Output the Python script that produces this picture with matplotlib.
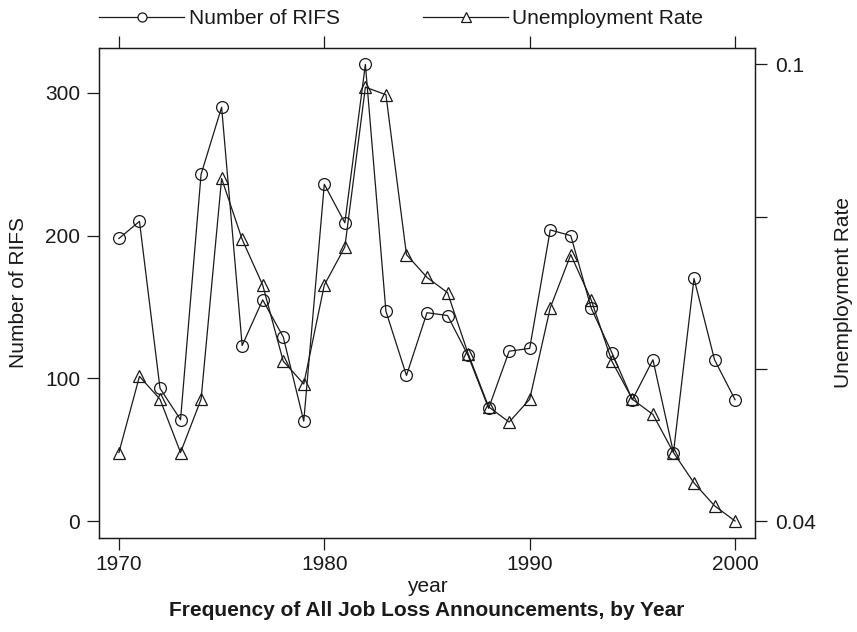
import numpy as np
from matplotlib import pyplot as plt
from matplotlib.lines import Line2D

plt.rcParams['font.family'] = ['Liberation Sans', 'DejaVu Sans']
plt.rcParams['font.size'] = 15

years = list(range(1970, 2001))
rifs = [198, 210, 93, 71, 243, 290, 123, 155, 129, 70,
        236, 209, 320, 147, 102, 146, 144, 116, 79, 119,
        121, 204, 200, 149, 118, 85, 113, 48, 170, 113, 85]
unemp = [0.049, 0.059, 0.056, 0.049, 0.056, 0.085, 0.077, 0.071, 0.061, 0.058,
         0.071, 0.076, 0.097, 0.096, 0.075, 0.072, 0.070, 0.062, 0.055, 0.053,
         0.056, 0.068, 0.075, 0.069, 0.061, 0.056, 0.054, 0.049, 0.045, 0.042, 0.040]

ink = '#1a1a1a'
W, H = 857, 632
fig = plt.figure(figsize=(W / 100, H / 100), dpi=100)

# panel box in pixels
x0, x1, ytop, ybot = 99, 755, 48, 538
ax = fig.add_axes([x0 / W, (H - ybot) / H, (x1 - x0) / W, (ybot - ytop) / H])
ax2 = ax.twinx()

ax.plot(years, rifs, color=ink, lw=0.9, marker='o', ms=8.5,
        mfc='none', mec=ink, mew=0.9)
ax2.plot(years, unemp, color=ink, lw=0.9, marker='^', ms=8,
         mfc='none', mec=ink, mew=0.9)

ax.set_xlim(1969.03, 2000.97)
ax.set_ylim(-11.9, 331.5)
ax2.set_ylim(0.03777, 0.10214)

ax.set_xticks([1970, 1980, 1990, 2000])
ax.set_yticks([0, 100, 200, 300])
ax2.set_yticks([0.04, 0.06, 0.08, 0.1])
ax2.set_yticklabels(['0.04', '', '', '0.1'])

ax.tick_params(axis='x', which='both', direction='out', length=8.5, width=0.9,
               color=ink, labelcolor=ink, pad=4, top=True, labeltop=False)
ax.tick_params(axis='y', direction='out', length=8.5, width=0.9,
               color=ink, labelcolor=ink, pad=5, left=True, right=False)
ax2.tick_params(axis='y', direction='out', length=8.5, width=0.9,
                color=ink, labelcolor=ink, pad=6, left=False, right=True)

for a in (ax, ax2):
    for s in a.spines.values():
        s.set_color(ink)
        s.set_linewidth(0.9)

ax.set_xlabel('year', color=ink, labelpad=2)
ax.set_ylabel('Number of RIFS', color=ink, labelpad=12)
ax2.set_ylabel('Unemployment Rate', color=ink, rotation=90, labelpad=13)

fig.text(0.5 * (x0 + x1) / W, 1 - 611 / H,
         'Frequency of All Job Loss Announcements, by Year',
         ha='center', va='center', fontweight='bold', color=ink)

handles = [
    Line2D([], [], color=ink, lw=0.9, marker='o', ms=6.5, mfc='white', mec=ink, mew=0.9),
    Line2D([], [], color=ink, lw=0.9, marker='^', ms=6.5, mfc='white', mec=ink, mew=0.9),
]
fig.legend(handles, ['Number of RIFS', 'Unemployment Rate'], ncol=2, frameon=False,
           loc='center left', bbox_to_anchor=(x0 / W, 1 - 19 / H),
           borderpad=0, borderaxespad=0, handlelength=4.1, handletextpad=0.2,
           columnspacing=4.0, numpoints=1, labelcolor=ink)

fig.savefig('out.png', dpi=100)
